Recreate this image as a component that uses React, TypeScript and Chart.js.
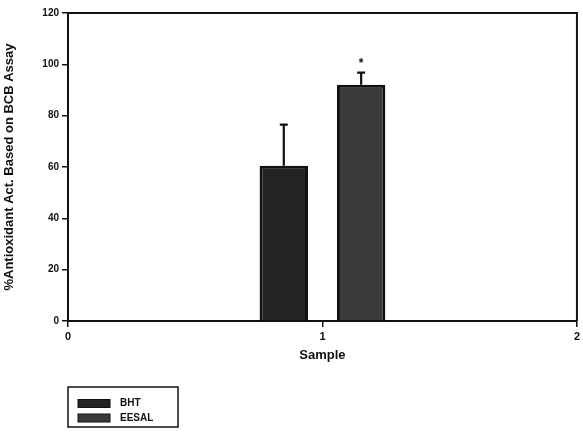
import React, { useEffect, useRef } from "react";
import { Chart, registerables } from "chart.js";

Chart.register(...registerables);

// ---- data ----
const xTickValues = [0, 1, 2];
const yTickValues = [0, 20, 40, 60, 80, 100, 120];
const seriesLabels = ["BHT", "EESAL"];
const seriesX = [1, 1];
const seriesMeans = [60.5, 92];
const seriesErrors = [16, 4.8];
const seriesMarks = ["", "*"];
const seriesColors = ["#232323", "#3a3a3a"];
const xTitle = "Sample";
const yTitle = "%Antioxidant Act. Based on BCB Assay";

const FONT = "'Liberation Sans', Arial, sans-serif";
const INK = "#111111";

const errorBarPlugin = {
  id: "errorBars",
  afterDatasetsDraw(chart: any) {
    const { ctx } = chart;
    const yScale = chart.scales.y;
    ctx.save();
    ctx.strokeStyle = INK;
    ctx.lineWidth = 2.2;
    chart.data.datasets.forEach((ds: any, i: number) => {
      const meta = chart.getDatasetMeta(i);
      meta.data.forEach((bar: any, j: number) => {
        const mean = ds.data[j].y;
        const err = seriesErrors[i];
        const yTop = yScale.getPixelForValue(mean + err);
        ctx.beginPath();
        ctx.moveTo(bar.x, bar.y);
        ctx.lineTo(bar.x, yTop);
        ctx.moveTo(bar.x - 4, yTop);
        ctx.lineTo(bar.x + 4, yTop);
        ctx.stroke();
        const mark = seriesMarks[i];
        if (mark) {
          ctx.fillStyle = INK;
          ctx.font = `bold 12px ${FONT}`;
          ctx.textAlign = "center";
          ctx.textBaseline = "bottom";
          ctx.fillText(mark, bar.x, yTop - 3);
        }
      });
    });
    ctx.restore();
  },
};

const framePlugin = {
  id: "frame",
  beforeDraw(chart: any) {
    const { ctx } = chart;
    ctx.save();
    ctx.fillStyle = "#ffffff";
    ctx.fillRect(0, 0, chart.width, chart.height);
    ctx.restore();
  },
  afterDraw(chart: any) {
    const { ctx, chartArea } = chart;
    ctx.save();
    ctx.strokeStyle = INK;
    ctx.lineWidth = 2;
    ctx.beginPath();
    ctx.moveTo(chartArea.left, chartArea.top);
    ctx.lineTo(chartArea.right, chartArea.top);
    ctx.lineTo(chartArea.right, chartArea.bottom);
    ctx.stroke();

    // legend box
    const bx = chartArea.left;
    const by = 387;
    const bw = 110;
    const bh = 40;
    ctx.lineWidth = 1.5;
    ctx.strokeRect(bx, by, bw, bh);
    ctx.font = `bold 10px ${FONT}`;
    ctx.textAlign = "left";
    ctx.textBaseline = "middle";
    seriesLabels.forEach((label, i) => {
      const cy = by + 16.5 + i * 14.5;
      ctx.fillStyle = seriesColors[i];
      ctx.fillRect(bx + 10, cy - 4, 32, 8);
      ctx.strokeStyle = INK;
      ctx.lineWidth = 1;
      ctx.strokeRect(bx + 10, cy - 4, 32, 8);
      ctx.fillStyle = INK;
      ctx.fillText(label, bx + 52, cy);
    });
    ctx.restore();
  },
};

export default function App() {
  const ref = useRef<HTMLCanvasElement | null>(null);

  useEffect(() => {
    if (!ref.current) return;
    const chart = new Chart(ref.current, {
      type: "bar",
      data: {
        datasets: seriesLabels.map((label, i) => ({
          label,
          data: [{ x: seriesX[i], y: seriesMeans[i] }],
          backgroundColor: seriesColors[i],
          borderColor: INK,
          borderWidth: 3,
          categoryPercentage: 0.608,
          barPercentage: 0.626,
        })),
      },
      options: {
        responsive: false,
        animation: false,
        layout: { padding: { left: 0, right: 5, top: 13, bottom: 0 } },
        plugins: {
          legend: { display: false },
          tooltip: { enabled: false },
        },
        scales: {
          x: {
            type: "linear",
            min: 0,
            max: 2,
            offset: false,
            afterBuildTicks: (scale: any) => {
              scale.ticks = xTickValues.map((v) => ({ value: v }));
            },
            afterFit: (scale: any) => {
              scale.height = 116;
            },
            grid: {
              offset: false,
              drawOnChartArea: false,
              drawTicks: true,
              tickLength: 6,
              color: INK,
              lineWidth: 1.5,
            },
            border: { display: true, color: INK, width: 2 },
            ticks: {
              color: INK,
              font: { family: FONT, size: 11, weight: "bold" },
              padding: 3,
              maxRotation: 0,
            },
            title: {
              display: true,
              text: xTitle,
              color: INK,
              font: { family: FONT, size: 13, weight: "bold" },
              padding: { top: 0, bottom: 74 },
            },
          },
          y: {
            min: 0,
            max: 120,
            afterBuildTicks: (scale: any) => {
              scale.ticks = yTickValues.map((v) => ({ value: v }));
            },
            afterFit: (scale: any) => {
              scale.width = 68;
            },
            grid: {
              drawOnChartArea: false,
              drawTicks: true,
              tickLength: 6,
              color: INK,
              lineWidth: 1.5,
            },
            border: { display: true, color: INK, width: 2 },
            ticks: {
              color: INK,
              font: { family: FONT, size: 10, weight: "bold" },
              padding: 3,
            },
            title: {
              display: true,
              text: yTitle,
              color: INK,
              font: { family: FONT, size: 13, weight: "bold" },
              padding: { top: 2, bottom: 0 },
            },
          },
        },
      },
      plugins: [framePlugin, errorBarPlugin],
    } as any);
    return () => chart.destroy();
  }, []);

  return (
    <div style={{ position: "absolute", left: 0, top: 0, width: 583, height: 437 }}>
      <canvas ref={ref} width={583} height={437} style={{ display: "block" }} />
    </div>
  );
}
